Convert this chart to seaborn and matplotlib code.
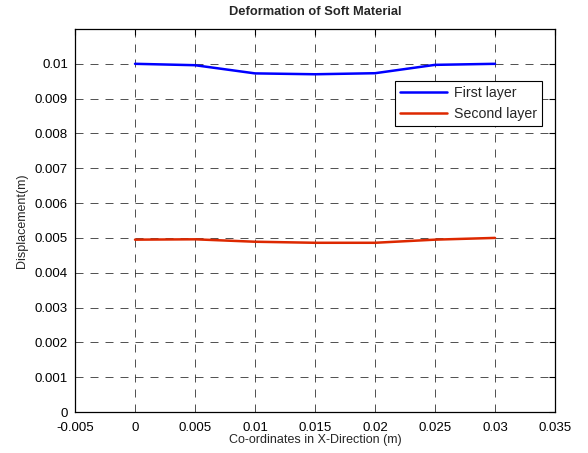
import numpy as np
import pandas as pd
import matplotlib
matplotlib.use("Agg")
import matplotlib.pyplot as plt
import seaborn as sns

# x positions along the material (m)
x_coords = [0.0, 0.005, 0.01, 0.015, 0.02, 0.025, 0.03]
# displacement (m)
first_layer = [0.01, 0.00996, 0.009725, 0.0097, 0.00973, 0.00997, 0.01]
second_layer = [0.00495, 0.00496, 0.00489, 0.00486, 0.00486, 0.00495, 0.005]
layer_names = ["First layer", "Second layer"]
layer_colors = ["#0000ff", "#dd2800"]

x_ticks = [-0.005, 0, 0.005, 0.01, 0.015, 0.02, 0.025, 0.03, 0.035]
y_ticks = [0, 0.001, 0.002, 0.003, 0.004, 0.005, 0.006, 0.007, 0.008, 0.009, 0.01]


def fmt(v):
    # matlab style short labels
    return "%g" % v


df = pd.DataFrame({
    "x": x_coords * 2,
    "disp": first_layer + second_layer,
    "layer": [layer_names[0]] * len(x_coords) + [layer_names[1]] * len(x_coords),
})

sns.set_style("white")
plt.rcParams["font.family"] = ["Liberation Sans", "DejaVu Sans"]

fig = plt.figure(figsize=(5.88, 4.53), dpi=100)
ax = fig.add_axes([0.1276, 0.0905, 0.8163, 0.8455])

sns.lineplot(data=df, x="x", y="disp", hue="layer", palette=layer_colors,
             linewidth=1.8, ax=ax, legend=True)

ax.set_xlim(-0.005, 0.035)
ax.set_ylim(0, 0.011)
ax.set_xticks(x_ticks)
ax.set_xticklabels([fmt(v) for v in x_ticks])
ax.set_yticks(y_ticks)
ax.set_yticklabels([fmt(v) for v in y_ticks])

ax.grid(True, color="black", linestyle=(0, (9.6, 8.4)), linewidth=0.6, alpha=0.8)
ax.tick_params(direction="in", length=4, width=0.8, labelsize=9.5,
               top=True, right=True, colors="black")
ax.tick_params(axis="x", pad=7)
ax.tick_params(axis="y", pad=5)
for sp in ax.spines.values():
    sp.set_color("black")
    sp.set_linewidth(0.9)

ax.set_xlabel("Co-ordinates in X-Direction (m)", fontsize=9, labelpad=0)
ax.set_ylabel("Displacement(m)", fontsize=9, labelpad=5)
ax.set_title("Deformation of Soft Material", fontsize=9.3, fontweight="bold", pad=10)

leg = ax.legend(loc="upper right", bbox_to_anchor=(0.973, 0.864), fontsize=10.2,
                frameon=True, fancybox=False, framealpha=1, edgecolor="black",
                handlelength=3.3, handletextpad=0.5, borderpad=0.35,
                labelspacing=0.5, borderaxespad=0)
leg.get_frame().set_linewidth(0.8)

fig.savefig("out.png", dpi=100)
